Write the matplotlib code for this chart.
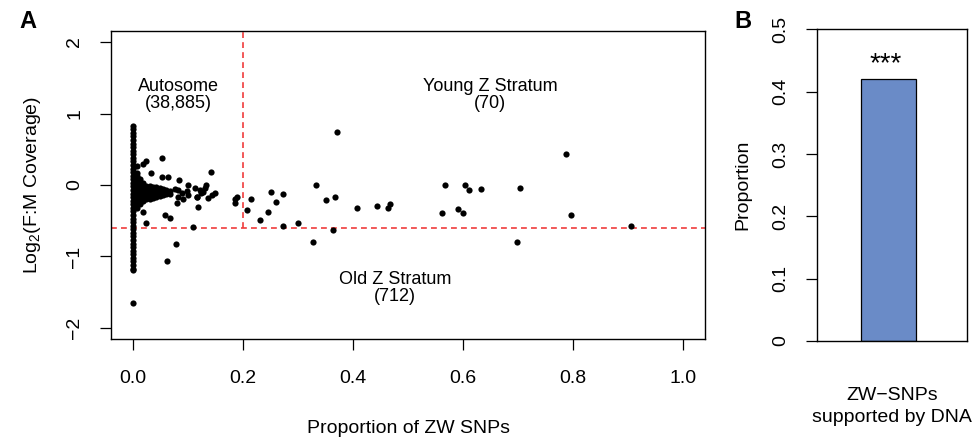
import matplotlib
matplotlib.use("Agg")
import matplotlib.pyplot as plt

plt.rcParams["font.family"] = ["Liberation Sans", "DejaVu Sans"]
plt.rcParams["mathtext.default"] = "regular"

# ── data ──────────────────────────────────────────────────────────────────────
# autosome SNPs piled at proportion 0 (the solid column)
column_y = [0.83, 0.78, 0.73, 0.68, 0.63, 0.58, 0.53, 0.48, 0.43, 0.38, 0.33,
            0.28, 0.23, 0.18, 0.13, 0.08, 0.03, -0.02, -0.07, -0.12, -0.17,
            -0.22, -0.27, -0.32, -0.37, -0.42, -0.47, -0.52, -0.57, -0.62,
            -0.67, -0.72, -0.77, -0.82, -0.87, -0.92, -0.97, -1.02, -1.07,
            -1.12, -1.17, -1.19, -1.646]

# dense fan just right of zero
fan_x = [0.006] * 12 + [0.012] * 8 + [0.018] * 6 + [0.024] * 5 + [0.030] * 5 \
    + [0.036] * 4 + [0.042] * 4 + [0.048] * 4 + [0.054] * 3 + [0.060] * 3 \
    + [0.066] * 2
fan_y = [0.26, 0.17, 0.12, 0.07, 0.02, -0.03, -0.08, -0.13, -0.18, -0.23, -0.28, -0.32,
         0.09, 0.04, -0.01, -0.06, -0.11, -0.16, -0.21, -0.26,
         0.03, -0.02, -0.07, -0.12, -0.17, -0.22,
         -0.01, -0.06, -0.11, -0.16, -0.20,
         -0.02, -0.07, -0.12, -0.17, -0.19,
         -0.03, -0.08, -0.13, -0.18,
         -0.03, -0.08, -0.13, -0.17,
         -0.04, -0.09, -0.14, -0.16,
         -0.06, -0.10, -0.14,
         -0.07, -0.11, -0.13,
         -0.09, -0.12]

# scattered SNPs
snp_x = [0.018, 0.024, 0.0515, 0.032, 0.053, 0.064, 0.083, 0.142, 0.100, 0.076,
         0.082, 0.089, 0.097, 0.112, 0.121, 0.127, 0.133, 0.131, 0.082, 0.079,
         0.091, 0.100, 0.115, 0.136, 0.148, 0.118, 0.018, 0.058, 0.067, 0.023,
         0.1085, 0.077, 0.061, 0.124, 0.116, 0.143, 0.185, 0.189, 0.185,
         0.2067, 0.2145, 0.231, 0.245, 0.250, 0.259, 0.273, 0.273, 0.300, 0.327,
         0.333, 0.350, 0.364, 0.367, 0.371, 0.407, 0.444, 0.464, 0.467, 0.562,
         0.567, 0.591, 0.600, 0.604, 0.611, 0.632, 0.698, 0.703, 0.786, 0.796,
         0.905]
snp_y = [0.294, 0.336, 0.373, 0.172, 0.108, 0.108, 0.07, 0.177, 0.0, -0.06,
         -0.07, -0.107, -0.08, -0.046, -0.07, -0.093, 0.0, -0.046, -0.163, -0.256,
         -0.2, -0.14, -0.163, -0.186, -0.117, -0.312, -0.373, -0.42, -0.466, -0.536,
         -0.592, -0.82, -1.067, -0.117, -0.163, -0.14, -0.2, -0.17, -0.25,
         -0.354, -0.196, -0.485, -0.378, -0.098, -0.242, -0.130, -0.573, -0.536, -0.793,
         -0.005, -0.214, -0.625, -0.168, 0.737, -0.317, -0.298, -0.326, -0.270, -0.392,
         -0.005, -0.331, -0.392, -0.005, -0.075, -0.061, -0.802, -0.047, 0.429, -0.424,
         -0.569]

zw_cutoff = 0.2
cov_cutoff = -0.6

region_labels = ["Autosome\n(38,885)", "Young Z Stratum\n(70)", "Old Z Stratum\n(712)"]
region_x = [0.082, 0.649, 0.476]
region_y = [1.26, 1.26, -1.44]

bar_labels = ["ZW\u2212SNPs\nsupported by DNA"]
bar_values = [0.42]

RED = "#f03c3c"
BLUE = "#6a8bc7"
FS = 14

# ── figure ────────────────────────────────────────────────────────────────────
fig = plt.figure(figsize=(9.76, 4.38), dpi=100)
ax1 = fig.add_axes([0.1140, 0.2251, 0.6086, 0.7050])
ax2 = fig.add_axes([0.8368, 0.2215, 0.1537, 0.7116])

# ── panel A ──
dot = dict(s=20, color="black", linewidths=0, zorder=3)
ax1.scatter([0.0] * len(column_y), column_y, **dot)
ax1.scatter(fan_x, fan_y, **dot)
ax1.scatter(snp_x, snp_y, **dot)

ax1.axhline(cov_cutoff, color=RED, lw=1.2, dashes=(3.5, 2.5), zorder=2)
ax1.plot([zw_cutoff, zw_cutoff], [cov_cutoff, 2.16], color=RED, lw=1.2,
         dashes=(3.5, 2.5), zorder=2)

for lab, tx, ty in zip(region_labels, region_x, region_y):
    ax1.text(tx, ty, lab, ha="center", va="center", fontsize=13,
             linespacing=1.05)

ax1.set_xlim(-0.04, 1.04)
ax1.set_ylim(-2.16, 2.16)
ax1.set_xticks([0.0, 0.2, 0.4, 0.6, 0.8, 1.0])
ax1.set_xticklabels(["0.0", "0.2", "0.4", "0.6", "0.8", "1.0"])
ax1.set_yticks([-2, -1, 0, 1, 2])
ax1.tick_params(axis="both", length=8, width=0.9, labelsize=FS)
ax1.tick_params(axis="x", pad=14)
ax1.tick_params(axis="y", pad=12)
for t in ax1.get_yticklabels():
    t.set_rotation(90)
    t.set_va("center")
ax1.set_xlabel("Proportion of ZW SNPs", fontsize=FS, labelpad=24)
ax1.set_ylabel(r"Log$_2$(F:M Coverage)", fontsize=FS, labelpad=17)
for sp in ax1.spines.values():
    sp.set_linewidth(1.0)

# ── panel B ──
ax2.bar([0.48], bar_values, width=0.367, color=BLUE, edgecolor="black",
        linewidth=0.9, zorder=2)
ax2.text(0.46, 0.432, "***", ha="center", va="baseline", fontsize=20)
ax2.set_xlim(0, 1)
ax2.set_ylim(0, 0.5)
ax2.set_xticks([])
ax2.set_yticks([0, 0.1, 0.2, 0.3, 0.4, 0.5])
ax2.set_yticklabels(["0", "0.1", "0.2", "0.3", "0.4", "0.5"])
ax2.tick_params(axis="y", length=8, width=0.9, labelsize=FS, pad=12)
for t in ax2.get_yticklabels():
    t.set_rotation(90)
    t.set_va("center")
ax2.set_ylabel("Proportion", fontsize=FS, labelpad=15)
ax2.set_xlabel(bar_labels[0], fontsize=FS, labelpad=33, linespacing=1.4)
for sp in ax2.spines.values():
    sp.set_linewidth(1.0)

# panel letters
fig.text(0.020, 0.950, "A", fontsize=17, fontweight="bold", va="center")
fig.text(0.752, 0.950, "B", fontsize=17, fontweight="bold", va="center")

fig.savefig("out.png", dpi=100)
